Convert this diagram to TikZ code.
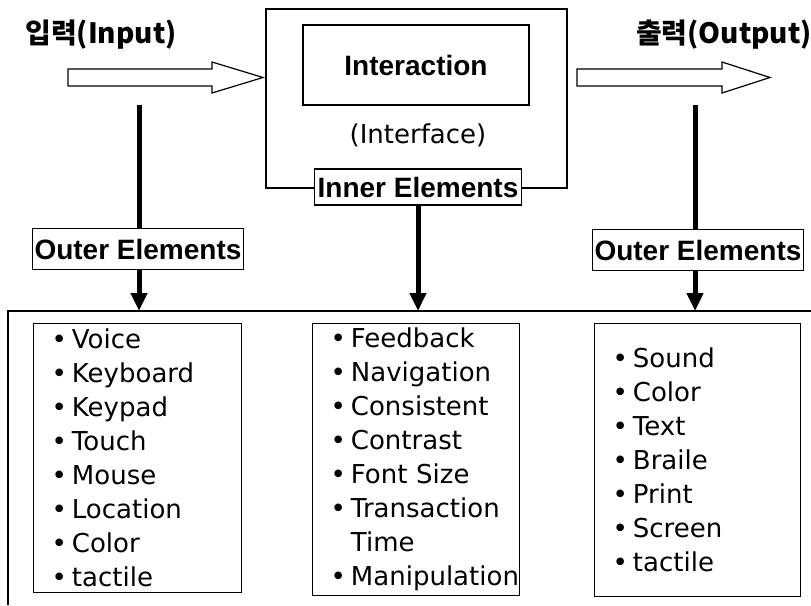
\documentclass[tikz,border=0pt]{standalone}
\usepackage{fontspec}
\setmainfont{DejaVu Sans}
\newfontfamily\arialfont{Liberation Sans}
\newfontfamily\hangulfont{Noto Sans CJK KR}
\usetikzlibrary{arrows.meta,positioning}

\newcommand{\bul}{\mbox{•\hspace{5pt}}}

\begin{document}
\begin{tikzpicture}[
		x=1pt, y=-1pt,
		thin line/.style={line width=1.2pt},
		label box/.style={draw, thin line, fill=white, inner sep=2pt,
			font=\arialfont\fontsize{28pt}{30pt}\selectfont\bfseries},
		list box/.style={draw, thin line, anchor=north west, align=left,
			inner xsep=18pt, inner ysep=0pt,
			font=\fontsize{26pt}{34pt}\selectfont},
		down arrow/.style={line width=5pt, -{Triangle[width=16pt,length=18pt]}},
		io label/.style={font=\hangulfont\fontsize{28pt}{30pt}\selectfont\bfseries}
		]
		\clip (0,0) rectangle (811,605);
		
		% input / output labels with hollow arrows
		\node[io label] (inlabel) at (101,35) {입력(Input)};
		\node[io label] (outlabel) at (724,35) {출력(Output)};
		\draw [thin line] (68,69) -- (212,69) -- (212,62) -- (263,77.5) -- (212,93) -- (212,86) -- (68,86) -- cycle;
		\draw [thin line] (577,69) -- (722,69) -- (722,62) -- (770,77.5) -- (722,93) -- (722,86) -- (577,86) -- cycle;
		
		% interaction frame
		\draw [thin line] (266,9) rectangle (567,188);
		\node[label box, minimum width=226pt, minimum height=80pt] (interaction) at (416,65) {Interaction};
		\node[font=\fontsize{26pt}{30pt}\selectfont] (interface) at (418,135) {(Interface)};
		\node[label box, minimum width=207pt, minimum height=36pt] (inner) at (418,187) {Inner Elements};
		
		% outer elements
		\node[label box, minimum width=208pt, minimum height=41pt] (outin) at (138,249) {Outer Elements};
		\node[label box, minimum width=208pt, minimum height=41pt] (outout) at (698,250) {Outer Elements};
		
		% big frame round the lists
		\coordinate (frametop) at (0,311);
		\draw [thin line] (8,605) |- (811,311);
		
		% thick arrows down
		\coordinate (inshaft) at (139,105);
		\coordinate (outshaft) at (695,105);
		\draw [line width=5pt] (inshaft) -- (inshaft |- outin.north);
		\draw [down arrow] (inshaft |- outin.south) -- (inshaft |- frametop);
		\draw [down arrow] (inner.south) -- (inner.south |- frametop);
		\draw [line width=5pt] (outshaft) -- (outshaft |- outout.north);
		\draw [down arrow] (outshaft |- outout.south) -- (outshaft |- frametop);
		
		% lists
		\node[list box, minimum width=208pt, minimum height=269pt, text width=172pt] (inlist) at (33,323)
			{\bul Voice\\ \bul Keyboard\\ \bul Keypad\\ \bul Touch\\ \bul Mouse\\ \bul Location\\ \bul Color\\ \bul tactile};
		\node[list box, minimum width=207pt, minimum height=272pt, text width=171pt] (innerlist) at (312,323)
			{\bul Feedback\\ \bul Navigation\\ \bul Consistent\\ \bul Contrast\\ \bul Font Size\\ \bul Transaction\\ \phantom{\bul}Time\\ \bul\mbox{Manipulation}};
		\node[list box, minimum width=206pt, minimum height=273pt, text width=170pt] (outlist) at (594,323)
			{\bul Sound\\ \bul Color\\ \bul Text\\ \bul Braile\\ \bul Print\\ \bul Screen\\ \bul tactile};
		
	\end{tikzpicture}
\end{document}
